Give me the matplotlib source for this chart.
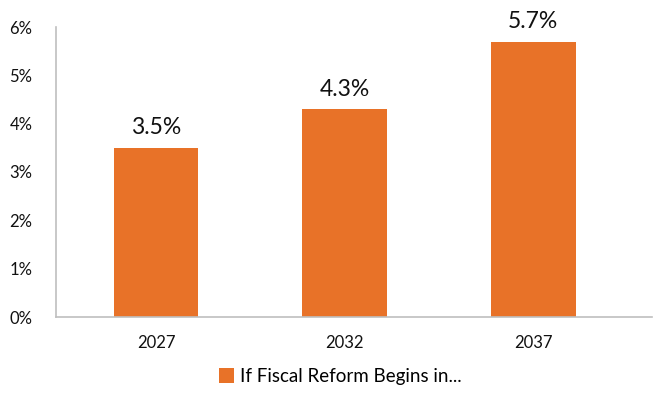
import matplotlib.pyplot as plt
from matplotlib.ticker import FuncFormatter

years = ['2027', '2032', '2037']
values = [3.5, 4.3, 5.7]
series_name = 'If Fiscal Reform Begins in...'

plt.rcParams['font.family'] = ['Lato', 'DejaVu Sans']

fig = plt.figure(figsize=(6.55, 3.94), dpi=100)
ax = fig.add_axes([56 / 655, 77 / 394, 596 / 655, 290 / 394])

bars = ax.bar(range(len(years)), values, width=0.45, color='#E87228', label=series_name)
for b, v in zip(bars, values):
    ax.text(b.get_x() + b.get_width() / 2, v + 0.2, f'{v:.1f}%', ha='center', va='bottom',
            fontsize=16.5, color='#111111')

ax.set_xlim(-0.53, 2.63)
ax.set_ylim(0, 6)
ax.set_yticks(range(7))
ax.yaxis.set_major_formatter(FuncFormatter(lambda y, _: f'{y:.0f}%'))
ax.set_xticks(range(len(years)))
ax.set_xticklabels(years)
ax.tick_params(axis='both', length=0, labelsize=12, colors='#111111')
ax.tick_params(axis='x', pad=13)
ax.tick_params(axis='y', pad=17)
for s in ['top', 'right']:
    ax.spines[s].set_visible(False)
for s in ['left', 'bottom']:
    ax.spines[s].set_color('#BFBFBF')
    ax.spines[s].set_linewidth(1.2)

fig.legend(loc='lower center', bbox_to_anchor=(0.52, -0.02), frameon=False, fontsize=13.5,
           handlelength=0.8, handleheight=0.9, handletextpad=0.3)

fig.savefig('out.png', dpi=100)
